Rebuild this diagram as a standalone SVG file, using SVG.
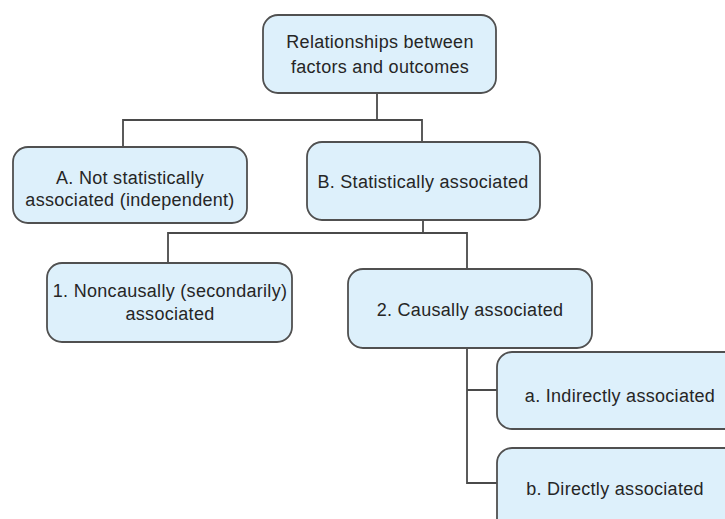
<svg xmlns="http://www.w3.org/2000/svg" width="725" height="519" viewBox="0 0 725 519">
<style>
.box{fill:#ddf0fb;stroke:#505050;stroke-width:1.8}
.t{font-family:"Liberation Sans",Arial,sans-serif;font-size:18px;letter-spacing:0.3px;fill:#262626;text-anchor:middle}
.c{fill:none;stroke:#4a4a4a;stroke-width:1.8}
</style>
<rect width="725" height="519" fill="#ffffff"/>
<g id="connectors">
<path class="c" d="M377 93V120M123 147V120H422V142"/>
<path class="c" d="M423 220V233M168 263V233H467V269"/>
<path class="c" d="M467 348V483H497M467 390H497"/>
</g>
<g id="root"><rect class="box" x="263" y="15" width="233" height="78" rx="15"/>
<text class="t" x="380" y="48">Relationships between</text><text class="t" x="380" y="73">factors and outcomes</text></g>
<g id="nodeA"><rect class="box" x="13" y="147" width="234" height="76" rx="15"/>
<text class="t" x="130" y="184">A. Not statistically</text><text class="t" x="130" y="206">associated (independent)</text></g>
<g id="nodeB"><rect class="box" x="307" y="142" width="233" height="78" rx="15"/>
<text class="t" x="423" y="188">B. Statistically associated</text></g>
<g id="node1"><rect class="box" x="47" y="263" width="245" height="79" rx="15"/>
<text class="t" x="170" y="297">1. Noncausally (secondarily)</text><text class="t" x="170" y="320">associated</text></g>
<g id="node2"><rect class="box" x="348" y="269" width="244" height="79" rx="15"/>
<text class="t" x="470" y="316">2. Causally associated</text></g>
<g id="nodea"><rect class="box" x="497" y="352" width="250" height="77" rx="15"/>
<text class="t" x="620" y="402">a. Indirectly associated</text></g>
<g id="nodeb"><rect class="box" x="497" y="448" width="250" height="90" rx="15"/>
<text class="t" x="615" y="495">b. Directly associated</text></g>
</svg>
